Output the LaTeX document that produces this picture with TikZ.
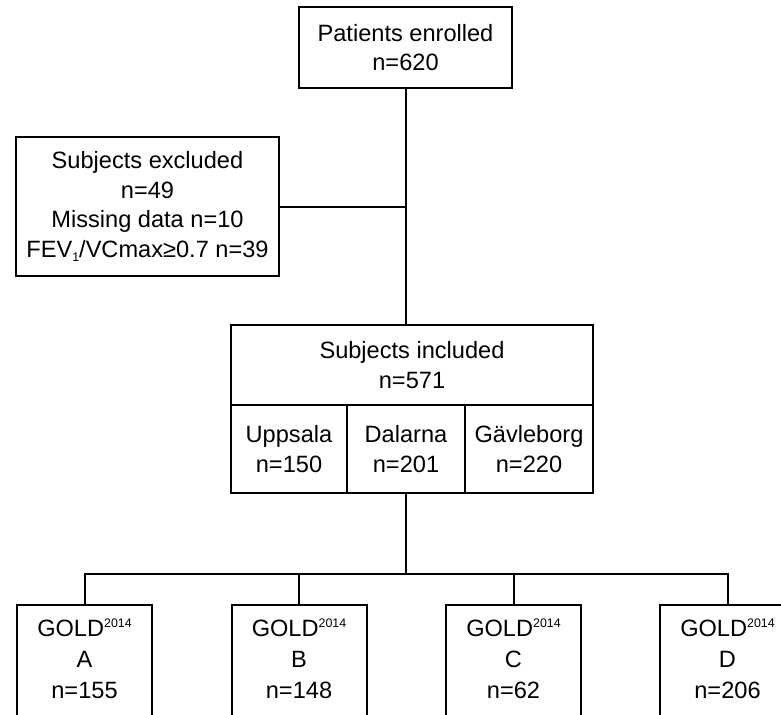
\documentclass[tikz,border=0pt]{standalone}
\usepackage{fontspec}
\setmainfont{Liberation Sans}
\newcommand{\supsm}[1]{\raisebox{0.75ex}{\fontsize{6.2}{6.2}\selectfont #1}}
\newcommand{\subsm}[1]{\raisebox{-0.35ex}{\fontsize{6.2}{6.2}\selectfont #1}}
\begin{document}
\begin{tikzpicture}[x=0.5pt,y=-0.5pt,
  box/.style={draw, line width=1pt, inner sep=0pt, outer sep=0pt, align=center,
    font=\fontsize{11.8}{14.8}\selectfont},
  lbl/.style={inner sep=0pt, align=center, font=\fontsize{11.8}{15.5}\selectfont},
  conn/.style={line width=1pt}]
\useasboundingbox (0,0) rectangle (781,714);
\clip (0,0) rectangle (781,714);
\fill[white] (0,0) rectangle (781,714);
% boxes
\node[box, minimum width=106.5pt, minimum height=40.5pt] (top) at (405.5,47.5) {Patients enrolled\\n=620};
\node[box, minimum width=131.5pt, minimum height=69.5pt] (excl) at (147.5,206.5)
  {Subjects excluded\\n=49\\Missing data n=10\\FEV\subsm{1}/VCmax≥0.7 n=39};
\node[box, minimum width=181pt, minimum height=40pt] (incl) at (412,365) {Subjects included\\n=571};
\node[box, minimum width=58pt, minimum height=44pt] (upp) at (289,449) {Uppsala\\n=150};
\node[box, minimum width=59pt, minimum height=44pt] (dal) at (406,449) {Dalarna\\n=201};
\node[box, minimum width=64pt, minimum height=44pt] (gav) at (529,449) {Gävleborg\\n=220};
% GOLD boxes
\node[box, minimum width=67.5pt, minimum height=67.5pt] (gA) at (84.5,672.5) {};
\node[box, minimum width=67.5pt, minimum height=67.5pt] (gB) at (299,672.5) {};
\node[box, minimum width=67.5pt, minimum height=67.5pt] (gC) at (513.5,672.5) {};
\node[box, minimum width=67.5pt, minimum height=67.5pt] (gD) at (727.5,672.5) {};
\node[lbl] (tA) at (84.5,659) {GOLD\supsm{2014}\\A\\n=155};
\node[lbl] (tB) at (299,659) {GOLD\supsm{2014}\\B\\n=148};
\node[lbl] (tC) at (513.5,659) {GOLD\supsm{2014}\\C\\n=62};
\node[lbl] (tD) at (727.5,659) {GOLD\supsm{2014}\\D\\n=206};
% connectors
\coordinate (jn) at (405,574);
\draw[conn] (top.south) -- (top.south |- incl.north);
\draw[conn] (excl.east) -- (excl.east -| top.south);
\draw[conn] (dal.south) -- (dal.south |- jn);
\draw[conn] (gA.north) |- (jn) -| (gD.north);
\draw[conn] (gB.north) -- (gB.north |- jn);
\draw[conn] (gC.north) -- (gC.north |- jn);
\end{tikzpicture}
\end{document}
